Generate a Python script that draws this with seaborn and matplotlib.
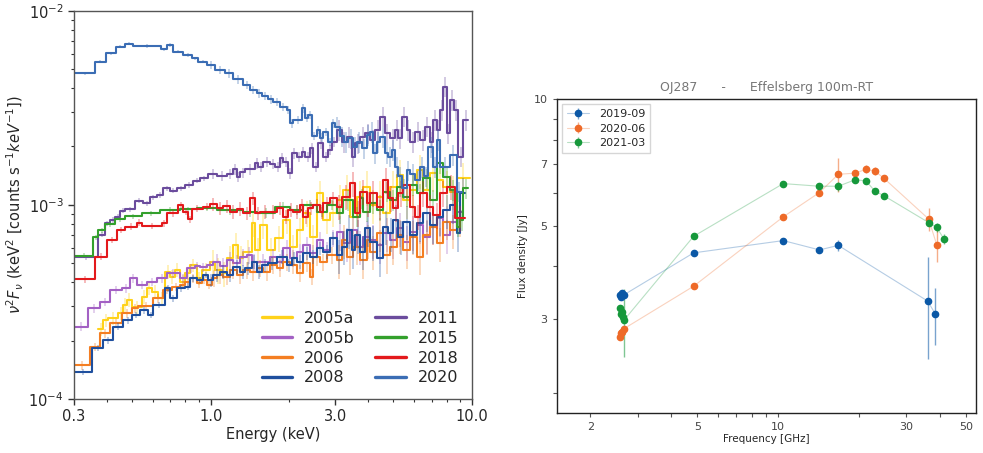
import numpy as np
import matplotlib
matplotlib.use("Agg")
import matplotlib.pyplot as plt
import matplotlib.ticker as mticker
from matplotlib.colors import to_rgba
import seaborn as sns

# ---------------- Left panel: X-ray nuFnu spectra (flux in units of 1e-3) ----------------
years = ["2005a", "2005b", "2006", "2008", "2011", "2015", "2018", "2020"]
colors_x = ["#ffd21a", "#a361c4", "#f47e22", "#1f4f9e", "#6b4c9d", "#33a02c", "#e3191c", "#3b6db4"]

e_2005a = [0.372, 0.388, 0.406, 0.443, 0.463, 0.477, 0.499, 0.545, 0.569, 0.595, 0.631, 0.669, 0.699, 0.730,
           0.763, 0.798, 0.834, 0.884, 0.924, 0.994, 1.039, 1.102, 1.152, 1.221, 1.276, 1.333, 1.436, 1.478,
           1.544, 1.638, 1.763, 1.897, 2.012, 2.134, 2.262, 2.400, 2.545, 2.697, 2.862, 3.035, 3.217, 3.413,
           3.619, 3.838, 4.071, 4.318, 4.577, 4.854, 5.150, 5.457, 5.790, 6.141, 6.510, 6.905, 7.327, 7.762,
           8.238, 8.737, 9.823]
f_2005a = [0.229, 0.255, 0.260, 0.276, 0.305, 0.324, 0.297, 0.337, 0.372, 0.357, 0.330, 0.453, 0.427, 0.462,
           0.402, 0.444, 0.490, 0.419, 0.462, 0.510, 0.462, 0.444, 0.531, 0.621, 0.531, 0.574, 0.804, 0.586,
           0.788, 0.586, 0.673, 0.836, 0.609, 0.742, 0.905, 0.686, 1.147, 0.836, 0.905, 1.059, 1.193, 0.869,
           1.102, 1.240, 0.998, 1.102, 0.905, 1.240, 1.425, 1.059, 1.193, 1.512, 1.193, 1.454, 1.343, 1.240,
           1.169, 1.370]

e_2005b = [0.300, 0.340, 0.377, 0.412, 0.457, 0.491, 0.521, 0.569, 0.622, 0.679, 0.763, 0.810, 0.871, 0.910,
           0.966, 1.024, 1.086, 1.152, 1.221, 1.295, 1.373, 1.436, 1.500, 1.687, 1.789, 1.897, 2.012, 2.134,
           2.262, 2.400, 2.545, 2.697, 2.862, 3.035, 3.217, 3.413, 3.619, 3.838, 4.071, 4.318, 4.577, 4.854,
           5.150, 5.457, 5.790, 6.141, 6.510, 6.905, 7.327, 7.762, 8.238, 8.737, 9.260]
f_2005b = [0.236, 0.293, 0.317, 0.364, 0.372, 0.419, 0.387, 0.402, 0.419, 0.444, 0.419, 0.471, 0.484, 0.477,
           0.490, 0.510, 0.484, 0.520, 0.500, 0.541, 0.552, 0.510, 0.510, 0.541, 0.510, 0.597, 0.531, 0.574,
           0.621, 0.563, 0.659, 0.586, 0.673, 0.727, 0.634, 0.742, 0.609, 0.686, 0.659, 0.621, 0.714, 0.659,
           0.757, 0.646, 0.727, 0.788, 0.686, 0.772, 0.853, 0.700, 0.819, 0.922]

e_2006 = [0.300, 0.345, 0.377, 0.412, 0.457, 0.499, 0.529, 0.603, 0.659, 0.709, 0.763, 0.798, 0.834, 0.884,
          0.924, 0.966, 1.009, 1.055, 1.118, 1.186, 1.258, 1.333, 1.414, 1.500, 1.590, 1.687, 1.789, 1.897,
          2.012, 2.134, 2.262, 2.400, 2.471, 2.620, 2.780, 3.035, 3.172, 3.315, 3.514, 3.727, 3.954, 4.071,
          4.318, 4.577, 4.854, 5.150, 5.457, 5.790, 6.141, 6.510, 6.905, 7.327, 7.762, 8.238, 8.737, 9.260]
f_2006 = [0.149, 0.186, 0.218, 0.247, 0.276, 0.293, 0.301, 0.330, 0.364, 0.379, 0.387, 0.402, 0.419, 0.394,
          0.410, 0.387, 0.419, 0.435, 0.427, 0.462, 0.435, 0.462, 0.453, 0.471, 0.453, 0.490, 0.471, 0.510,
          0.490, 0.444, 0.500, 0.427, 0.541, 0.510, 0.552, 0.520, 0.659, 0.541, 0.609, 0.520, 0.659, 0.574,
          0.714, 0.552, 0.609, 0.700, 0.586, 0.686, 0.541, 0.700, 0.772, 0.634, 0.819, 0.742, 0.853]

e_2008 = [0.300, 0.351, 0.388, 0.424, 0.463, 0.499, 0.537, 0.577, 0.603, 0.669, 0.699, 0.741, 0.798, 0.834,
          0.884, 0.937, 0.979, 1.024, 1.086, 1.152, 1.221, 1.295, 1.353, 1.436, 1.500, 1.568, 1.661, 1.789,
          1.954, 2.042, 2.134, 2.262, 2.400, 2.545, 2.697, 2.862, 3.035, 3.172, 3.315, 3.464, 3.566, 3.727,
          3.895, 4.071, 4.318, 4.577, 4.782, 4.998, 5.223, 5.457, 5.790, 6.141, 6.510, 6.905, 7.327, 7.762,
          8.238, 8.737, 8.994, 9.400]
f_2008 = [0.138, 0.183, 0.201, 0.236, 0.255, 0.271, 0.287, 0.271, 0.305, 0.372, 0.330, 0.372, 0.379, 0.419,
          0.410, 0.435, 0.410, 0.435, 0.453, 0.435, 0.480, 0.453, 0.471, 0.510, 0.453, 0.490, 0.500, 0.541,
          0.490, 0.531, 0.510, 0.563, 0.541, 0.597, 0.574, 0.673, 0.552, 0.609, 0.742, 0.586, 0.700, 0.574,
          0.757, 0.646, 0.531, 0.772, 0.714, 0.836, 0.686, 0.819, 0.700, 0.804, 0.905, 0.788, 0.869, 0.941,
          0.998, 0.714, 1.147]

e_2011 = [0.300, 0.371, 0.394, 0.412, 0.431, 0.450, 0.470, 0.514, 0.553, 0.586, 0.622, 0.659, 0.699, 0.741,
          0.798, 0.858, 0.910, 0.979, 1.055, 1.152, 1.221, 1.258, 1.295, 1.353, 1.478, 1.521, 1.590, 1.687,
          1.763, 1.842, 1.897, 1.982, 2.042, 2.134, 2.230, 2.295, 2.400, 2.471, 2.582, 2.697, 2.819, 2.905,
          3.035, 3.172, 3.315, 3.464, 3.566, 3.727, 3.895, 4.071, 4.254, 4.446, 4.645, 4.854, 5.073, 5.223,
          5.382, 5.624, 5.790, 6.051, 6.324, 6.607, 6.905, 7.110, 7.327, 7.543, 7.762, 7.998, 8.238, 8.530,
          8.860, 9.260, 9.677]
f_2011 = [0.537, 0.700, 0.804, 0.836, 0.869, 0.933, 0.948, 1.050, 1.018, 1.094, 1.124, 1.217, 1.183, 1.217,
          1.266, 1.332, 1.370, 1.442, 1.412, 1.437, 1.524, 1.397, 1.469, 1.524, 1.637, 1.572, 1.668, 1.623,
          1.572, 1.736, 1.668, 1.454, 1.842, 1.770, 1.878, 1.770, 1.955, 1.572, 2.074, 1.770, 1.916, 2.114,
          2.429, 2.114, 2.243, 1.770, 2.074, 2.243, 2.336, 2.157, 2.429, 2.844, 2.336, 2.201, 2.429, 2.201,
          2.844, 2.429, 2.114, 2.381, 2.157, 2.526, 2.114, 2.735, 2.429, 3.079, 4.059, 2.336, 3.467, 3.079,
          1.770, 2.735]

e_2015 = [0.300, 0.356, 0.372, 0.394, 0.431, 0.470, 0.545, 0.640, 0.763, 0.884, 1.055, 1.333, 1.500, 1.763,
          2.012, 2.262, 2.545, 2.780, 3.035, 3.217, 3.514, 3.727, 3.838, 4.071, 4.318, 4.577, 4.854, 5.150,
          5.457, 5.790, 6.141, 6.510, 6.905, 7.327, 7.762, 8.238, 8.737, 8.994, 9.260, 9.677]
f_2015 = [0.547, 0.681, 0.742, 0.797, 0.842, 0.876, 0.905, 0.941, 0.948, 0.960, 0.941, 0.922, 0.911, 0.978,
          0.941, 0.998, 0.922, 0.998, 0.905, 1.059, 0.869, 1.081, 0.922, 1.018, 0.941, 1.169, 1.059, 1.240,
          1.102, 1.266, 1.147, 1.370, 1.059, 1.637, 1.397, 1.193, 0.772, 0.836, 1.217]

e_2018 = [0.300, 0.361, 0.400, 0.437, 0.470, 0.521, 0.545, 0.650, 0.679, 0.752, 0.786, 0.821, 0.846, 0.937,
          0.994, 1.055, 1.118, 1.186, 1.258, 1.333, 1.414, 1.478, 1.544, 1.687, 1.789, 1.897, 1.982, 2.071,
          2.197, 2.262, 2.363, 2.471, 2.620, 2.697, 2.862, 3.035, 3.172, 3.413, 3.566, 3.727, 3.954, 4.071,
          4.318, 4.577, 4.782, 4.998, 5.223, 5.457, 5.790, 6.051, 6.324, 6.709, 7.110, 7.543, 7.998, 8.606,
          9.400]
f_2018 = [0.414, 0.541, 0.659, 0.742, 0.772, 0.809, 0.778, 0.804, 0.905, 0.998, 0.922, 0.842, 0.956, 0.978,
          1.010, 0.960, 0.986, 0.922, 0.956, 0.905, 1.081, 0.905, 0.922, 0.922, 0.960, 0.869, 0.941, 0.922,
          0.998, 0.869, 0.960, 0.998, 0.922, 1.018, 1.081, 0.978, 1.102, 1.291, 0.905, 1.169, 1.018, 1.147,
          0.978, 1.343, 1.081, 0.960, 1.147, 1.266, 0.978, 0.869, 1.147, 0.978, 0.887, 1.147, 1.240, 0.853]

e_2020 = [0.300, 0.361, 0.397, 0.433, 0.470, 0.506, 0.644, 0.682, 0.716, 0.786, 0.846, 0.897, 0.966, 1.039,
          1.135, 1.221, 1.333, 1.414, 1.500, 1.568, 1.661, 1.736, 1.842, 1.954, 2.012, 2.071, 2.230, 2.295,
          2.363, 2.435, 2.545, 2.620, 2.697, 2.819, 2.905, 2.990, 3.124, 3.237, 3.363, 3.514, 3.639, 3.783,
          3.954, 4.071, 4.191, 4.318, 4.446, 4.645, 4.782, 4.928, 5.073, 5.223, 5.382, 5.624, 5.790, 6.051,
          6.324, 6.549, 6.803, 7.110, 7.327, 7.543, 8.238, 8.737, 9.154]
f_2020 = [4.76, 5.46, 6.03, 6.53, 6.76, 6.58, 6.33, 6.66, 6.15, 5.91, 5.69, 5.46, 5.25, 4.95, 4.76, 4.43,
          4.14, 3.90, 3.75, 3.64, 3.50, 3.40, 3.20, 3.08, 2.63, 2.74, 3.14, 2.80, 2.90, 2.26, 2.43, 2.22,
          2.38, 2.11, 2.63, 2.53, 2.26, 2.11, 2.20, 1.99, 2.11, 1.96, 2.29, 2.38, 1.84, 2.11, 2.24, 1.84,
          1.77, 1.92, 1.57, 1.40, 1.22, 1.51, 1.45, 1.34, 1.57, 1.40, 1.99, 1.57, 2.16, 1.57, 1.81, 1.17]

# relative 1-sigma error: [E < 1 keV, 1-3 keV, > 3 keV]
rel_err = {"2005a": [0.08, 0.15, 0.20], "2005b": [0.05, 0.10, 0.20], "2006": [0.05, 0.10, 0.20],
           "2008": [0.04, 0.08, 0.20], "2011": [0.03, 0.06, 0.12], "2015": [0.03, 0.06, 0.12],
           "2018": [0.04, 0.08, 0.15], "2020": [0.02, 0.05, 0.12]}

spectra = {"2005a": (e_2005a, f_2005a), "2005b": (e_2005b, f_2005b), "2006": (e_2006, f_2006),
           "2008": (e_2008, f_2008), "2011": (e_2011, f_2011), "2015": (e_2015, f_2015),
           "2018": (e_2018, f_2018), "2020": (e_2020, f_2020)}

# ---------------- Right panel: Effelsberg radio spectra ----------------
labels_r = ["2019-09", "2020-06", "2021-03"]
colors_r = ["#0b58a6", "#ee6a28", "#16983b"]
freq_2019_09 = [2.59, 2.61, 2.63, 2.66, 4.85, 10.45, 14.25, 16.75, 36.0, 38.5]
flux_2019_09 = [3.42, 3.38, 3.45, 3.42, 4.31, 4.61, 4.38, 4.49, 3.31, 3.08]
err_2019_09 = [0.04, 0.04, 0.04, 0.04, 0.04, 0.05, 0.08, 0.13, 0.90, 0.48]
freq_2020_06 = [2.59, 2.61, 2.63, 2.66, 4.85, 10.45, 14.25, 16.75, 19.3, 21.2, 22.9, 24.8, 36.3, 38.9]
flux_2020_06 = [2.72, 2.78, 2.80, 2.84, 3.59, 5.25, 6.00, 6.63, 6.67, 6.81, 6.75, 6.48, 5.19, 4.51]
err_2020_06 = [0.03, 0.03, 0.03, 0.03, 0.04, 0.05, 0.08, 0.60, 0.12, 0.15, 0.15, 0.12, 0.32, 0.40]
freq_2021_03 = [2.58, 2.60, 2.62, 2.64, 2.67, 4.85, 10.45, 14.25, 16.75, 19.3, 21.2, 22.9, 24.8, 36.3, 38.9, 41.4]
flux_2021_03 = [3.18, 3.08, 3.12, 3.03, 2.98, 4.72, 6.30, 6.21, 6.21, 6.43, 6.40, 6.05, 5.89, 5.09, 4.96, 4.65]
err_2021_03 = [0.04, 0.04, 0.04, 0.04, 0.55, 0.04, 0.05, 0.06, 0.15, 0.06, 0.06, 0.06, 0.06, 0.10, 0.12, 0.12]
radio = [(freq_2019_09, flux_2019_09, err_2019_09),
         (freq_2020_06, flux_2020_06, err_2020_06),
         (freq_2021_03, flux_2021_03, err_2021_03)]

# ---------------- Figure ----------------
sns.set_theme(style="ticks")
plt.rcParams["font.family"] = ["DejaVu Sans"]
plt.rcParams["axes.linewidth"] = 1.0

fig = plt.figure(figsize=(9.83, 4.53), dpi=100)
ax1 = fig.add_axes([0.0753, 0.1192, 0.4049, 0.8572])
ax2 = fig.add_axes([0.5663, 0.0890, 0.4266, 0.6918])

handles = []
for name, col in zip(years, colors_x):
    edges, vals = spectra[name]
    n = min(len(edges) - 1, len(vals))
    e = np.asarray(edges[:n + 1], dtype=float)
    v = np.asarray(vals[:n], dtype=float) * 1e-3
    centers = np.sqrt(e[:-1] * e[1:])
    lv = rel_err[name]
    frac = np.where(centers < 1.0, lv[0], np.where(centers < 3.0, lv[1], lv[2]))
    ax1.errorbar(centers, v, yerr=v * frac, fmt="none", ecolor=col, alpha=0.3, elinewidth=1.4)
    sns.lineplot(x=e, y=np.append(v, v[-1]), ax=ax1, color=col, lw=1.5,
                 drawstyle="steps-post", estimator=None, sort=False)
    handles.append(plt.Line2D([], [], color=col, lw=2.4))

ax1.set_xscale("log")
ax1.set_yscale("log")
ax1.set_xlim(0.3, 10.0)
ax1.set_ylim(1e-4, 1e-2)
ax1.xaxis.set_major_locator(mticker.FixedLocator([0.3, 1.0, 3.0, 10.0]))
ax1.xaxis.set_major_formatter(mticker.FixedFormatter(["0.3", "1.0", "3.0", "10.0"]))
ax1.xaxis.set_minor_locator(mticker.FixedLocator([0.4, 0.5, 0.6, 0.7, 0.8, 0.9, 2, 4, 5, 6, 7, 8, 9]))
ax1.xaxis.set_minor_formatter(mticker.NullFormatter())
ax1.tick_params(axis="both", which="major", labelsize=10.5, length=4, width=1, color="#333333")
ax1.tick_params(axis="both", which="minor", length=2.5, width=0.8, color="#333333")
ax1.set_xlabel("Energy (keV)", fontsize=10.5, labelpad=2)
ax1.set_ylabel(r"$\nu^2F_\nu$ (keV$^2$ [counts s$^{-1}keV^{-1}$])", fontsize=10.5, labelpad=2)
for s in ax1.spines.values():
    s.set_color("#555555")
ax1.legend(handles, years, ncol=2, loc="lower right", frameon=False, fontsize=11.5,
           handlelength=1.9, handletextpad=0.75, columnspacing=1.3, labelspacing=0.3,
           borderaxespad=0.45)

for (fr, fl, er), lab, col in zip(radio, labels_r, colors_r):
    ax2.errorbar(fr, fl, yerr=er, fmt="-o", color=to_rgba(col, 0.3), lw=0.8,
                 mfc=col, mec=col, ms=4.5, ecolor=to_rgba(col, 0.55), elinewidth=1.0, label=lab)

ax2.set_xscale("log")
ax2.set_yscale("log")
ax2.set_xlim(1.5, 54.5)
ax2.set_ylim(1.795, 10)
ax2.xaxis.set_major_locator(mticker.FixedLocator([2, 3, 4, 5, 6, 7, 8, 9, 10, 20, 30, 40, 50]))
ax2.xaxis.set_major_formatter(mticker.FixedFormatter(["2", "", "", "5", "", "", "", "", "10", "", "30", "", "50"]))
ax2.xaxis.set_minor_locator(mticker.NullLocator())
ax2.yaxis.set_major_locator(mticker.FixedLocator([2, 3, 4, 5, 6, 7, 8, 9, 10]))
ax2.yaxis.set_major_formatter(mticker.FixedFormatter(["", "3", "", "5", "", "7", "", "", "10"]))
ax2.yaxis.set_minor_locator(mticker.NullLocator())
ax2.tick_params(axis="both", labelsize=8, length=3, width=0.8, color="#555555", labelcolor="#444444")
ax2.set_xlabel("Frequency [GHz]", fontsize=7.5, labelpad=2)
ax2.set_ylabel("Flux density [Jy]", fontsize=7.5, labelpad=4)
ax2.set_title("OJ287      -      Effelsberg 100m-RT", fontsize=9, color="#777777", pad=6)
for s in ax2.spines.values():
    s.set_color("#222222")
ax2.legend(loc="upper left", fontsize=8, frameon=True, edgecolor="#cccccc", fancybox=False,
           handlelength=2.0, handletextpad=0.9, borderaxespad=0.45, labelspacing=0.4,
           borderpad=0.45)

fig.savefig("out.png", dpi=100)
